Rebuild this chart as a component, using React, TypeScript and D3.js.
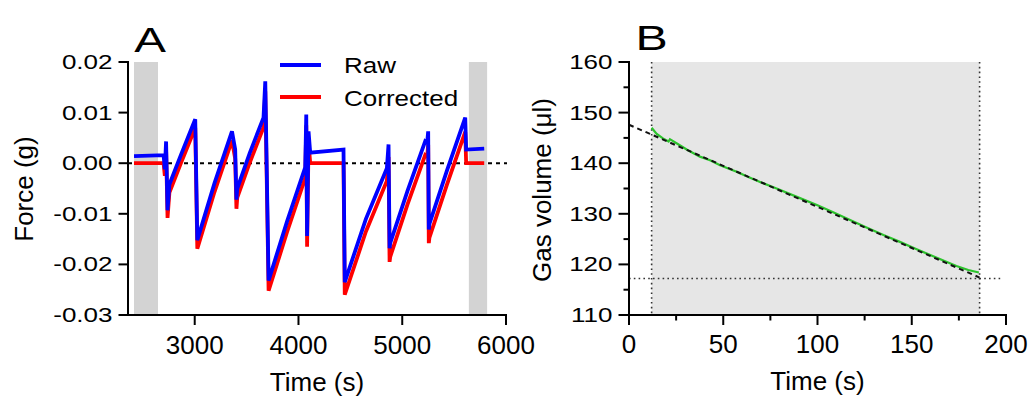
import React from "react";
import * as d3 from "d3";

// ---------- Panel A data ----------
const rawTime = [2415, 2700, 2712, 2724, 2738, 2756, 2870, 3005, 3025, 3190, 3359, 3390, 3402, 3410, 3530, 3663, 3680, 3712, 3890, 4065, 4075, 4083, 4097, 4113, 4434, 4446, 4650, 4852, 4868, 4878, 4884, 5050, 5221, 5240, 5250, 5256, 5262, 5430, 5607, 5616, 5790];
const rawForce = [0.0014, 0.0016, -0.0012, 0.0043, -0.0093, -0.0042, 0.0018, 0.0087, -0.0152, -0.0040, 0.0063, 0.0027, -0.0072, -0.0050, 0.0020, 0.0090, 0.0162, -0.0232, -0.0115, -0.0008, 0.0096, -0.0144, 0.0063, 0.0021, 0.0027, -0.0235, -0.0110, -0.0010, 0.0037, -0.0168, -0.0158, -0.0055, 0.0043, 0.0040, 0.0063, -0.0131, -0.0120, -0.0015, 0.0090, 0.0027, 0.0029];
const correctedForce = [0, 0, -0.0025, 0.0028, -0.0108, -0.0058, 0.0002, 0.0070, -0.0169, -0.0057, 0.0045, 0.0009, -0.0090, -0.0068, 0.0001, 0.0071, 0.0142, -0.0252, -0.0136, -0.0029, 0.0075, -0.0165, 0.0041, 0, 0, -0.0260, -0.0135, -0.0035, 0.0012, -0.0195, -0.0185, -0.0082, 0.0016, 0.0013, 0.0036, -0.0158, -0.0147, -0.0043, 0.0062, 0, 0];
const baselineBands = [[2415, 2646], [5642, 5818]];
const aXTicks = [3000, 4000, 5000, 6000];
const aYTicks = [0.02, 0.01, 0.0, -0.01, -0.02, -0.03];
const aYTickLabels = ["0.02", "0.01", "0.00", "-0.01", "-0.02", "-0.03"];
const legendLabels = ["Raw", "Corrected"];

// ---------- Panel B data ----------
const gasTime = [12, 14.7, 18, 21, 21.7, 25, 30.6, 37.6, 43, 48.3, 57.1, 63, 69.5, 78.3, 90.7, 100, 108.3, 117, 126, 135, 143.7, 152, 161.4, 173.7, 180, 185.6];
const gasVolume = [147.0, 145.8, 144.9, 144.3, 144.75, 144.0, 142.7, 141.3, 140.6, 139.6, 138.3, 137.3, 136.3, 135.0, 133.1, 131.7, 130.3, 128.8, 127.3, 125.8, 124.45, 123.1, 121.6, 119.7, 118.9, 118.4];
const fitTime = [0, 186];
const fitVolume = [147.6, 117.4];
const windowTime = [12, 186];
const endVolume = 117.2;
const endLineTime = [0, 198];
const bXTicks = [0, 50, 100, 150, 200];
const bXMinor = [25, 75, 125, 175];
const bYTicks = [110, 120, 130, 140, 150, 160];
const bYMinor = [115, 125, 135, 145, 155];

const FONT = "'Liberation Sans', Arial, Helvetica, sans-serif";

function Txt({ x, y, size, sx = 1, sy = 1, anchor = "start", rotate = 0, children }: any) {
  return (
    <text
      transform={`translate(${x},${y}) rotate(${rotate}) scale(${sx},${sy})`}
      fontSize={size}
      fontFamily={FONT}
      textAnchor={anchor}
      fill="#000"
    >
      {children}
    </text>
  );
}

export default function App() {
  // Panel A scales
  const axL = 128, axR = 506, top = 62, bottom = 315;
  const xA = d3.scaleLinear().domain([2357, 6000]).range([axL, axR]);
  const yA = d3.scaleLinear().domain([-0.03, 0.02]).range([bottom, top]);
  const lineA = d3.line<number>().x((_, i) => xA(rawTime[i])).y((d) => yA(d));

  // Panel B scales
  const bxL = 629, bxR = 1006;
  const xB = d3.scaleLinear().domain([0, 200]).range([bxL, bxR]);
  const yB = d3.scaleLinear().domain([110, 160]).range([bottom, top]);
  const greenLine = d3.line<number>().x((_, i) => xB(gasTime[i])).y((d) => yB(d));
  const fitLine = d3.line<number>().x((_, i) => xB(fitTime[i])).y((d) => yB(d));

  return (
    <svg
      width={1029}
      height={398}
      style={{ position: "absolute", left: 0, top: 0, background: "#fff" }}
    >
      <rect x={0} y={0} width={1029} height={398} fill="#fff" />

      {/* ===== Panel A ===== */}
      {baselineBands.map((b, i) => (
        <rect key={i} x={xA(b[0])} y={top} width={xA(b[1]) - xA(b[0])} height={bottom - top} fill="#d3d3d3" />
      ))}
      <line x1={axL} x2={axR + 1} y1={yA(0)} y2={yA(0)} stroke="#000" strokeWidth={2} strokeDasharray="4,4" />
      <path d={lineA(correctedForce) || ""} fill="none" stroke="#ff0000" strokeWidth={3.8} />
      <path d={lineA(rawForce) || ""} fill="none" stroke="#0000ff" strokeWidth={3.8} />

      {/* axes A */}
      <line x1={axL} x2={axL} y1={top - 1} y2={bottom + 1} stroke="#000" strokeWidth={2} />
      <line x1={axL - 1} x2={axR + 1} y1={bottom} y2={bottom} stroke="#000" strokeWidth={2} />
      {aYTicks.map((t, i) => (
        <g key={t}>
          <line x1={axL - 9.5} x2={axL} y1={yA(t)} y2={yA(t)} stroke="#000" strokeWidth={2} />
          <Txt x={112.5} y={yA(t) + 7} size={26} sy={0.75} anchor="end">{aYTickLabels[i]}</Txt>
        </g>
      ))}
      {aXTicks.map((t) => (
        <g key={t}>
          <line x1={xA(t)} x2={xA(t)} y1={bottom} y2={bottom + 10} stroke="#000" strokeWidth={2} />
          <Txt x={xA(t)} y={354} size={26} anchor="middle">{t}</Txt>
        </g>
      ))}
      <Txt x={(axL + axR) / 2} y={391} size={26} anchor="middle">Time (s)</Txt>
      <Txt x={33} y={189} size={26} anchor="middle" rotate={-90}>Force (g)</Txt>
      <Txt x={134.3} y={52} size={35} sx={1.36}>A</Txt>

      {/* legend */}
      <line x1={280} x2={321} y1={65} y2={65} stroke="#0000ff" strokeWidth={4} />
      <line x1={280} x2={321} y1={97} y2={97} stroke="#ff0000" strokeWidth={4} />
      <Txt x={344} y={73.3} size={26} sy={0.87}>{legendLabels[0]}</Txt>
      <Txt x={344} y={105.5} size={26} sy={0.87}>{legendLabels[1]}</Txt>

      {/* ===== Panel B ===== */}
      <rect x={xB(windowTime[0])} y={top} width={xB(windowTime[1]) - xB(windowTime[0])} height={bottom - top} fill="#e6e6e6" />
      {windowTime.map((t) => (
        <line key={t} x1={xB(t)} x2={xB(t)} y1={top} y2={bottom} stroke="#333" strokeWidth={1.6} strokeDasharray="1.6,3.2" />
      ))}
      <line x1={xB(endLineTime[0])} x2={xB(endLineTime[1])} y1={yB(endVolume)} y2={yB(endVolume)} stroke="#333" strokeWidth={1.6} strokeDasharray="1.6,3.2" />
      <path d={greenLine(gasVolume) || ""} fill="none" stroke="#2dc42d" strokeWidth={2.2} />
      <path d={fitLine(fitVolume) || ""} fill="none" stroke="#111" strokeWidth={2} strokeDasharray="5,4" />

      {/* axes B */}
      <line x1={bxL} x2={bxL} y1={top - 1} y2={bottom + 1} stroke="#000" strokeWidth={2} />
      <line x1={bxL - 1} x2={bxR + 1} y1={bottom} y2={bottom} stroke="#000" strokeWidth={2} />
      {bYTicks.map((t) => (
        <g key={t}>
          <line x1={bxL - 10.5} x2={bxL} y1={yB(t)} y2={yB(t)} stroke="#000" strokeWidth={2} />
          <Txt x={612.5} y={yB(t) + 7} size={26} sy={0.75} anchor="end">{t}</Txt>
        </g>
      ))}
      {bYMinor.map((t) => (
        <line key={t} x1={bxL - 5.5} x2={bxL} y1={yB(t)} y2={yB(t)} stroke="#000" strokeWidth={2} />
      ))}
      {bXTicks.map((t) => (
        <g key={t}>
          <line x1={xB(t)} x2={xB(t)} y1={bottom} y2={bottom + 10} stroke="#000" strokeWidth={2} />
          <Txt x={xB(t)} y={353} size={26} anchor="middle">{t}</Txt>
        </g>
      ))}
      {bXMinor.map((t) => (
        <line key={t} x1={xB(t)} x2={xB(t)} y1={bottom} y2={bottom + 5.5} stroke="#000" strokeWidth={2} />
      ))}
      <Txt x={(bxL + bxR) / 2} y={390} size={26} anchor="middle">Time (s)</Txt>
      <Txt x={551} y={190} size={26} anchor="middle" rotate={-90}>Gas volume (μl)</Txt>
      <Txt x={635.5} y={49.5} size={35} sx={1.38}>B</Txt>
    </svg>
  );
}
